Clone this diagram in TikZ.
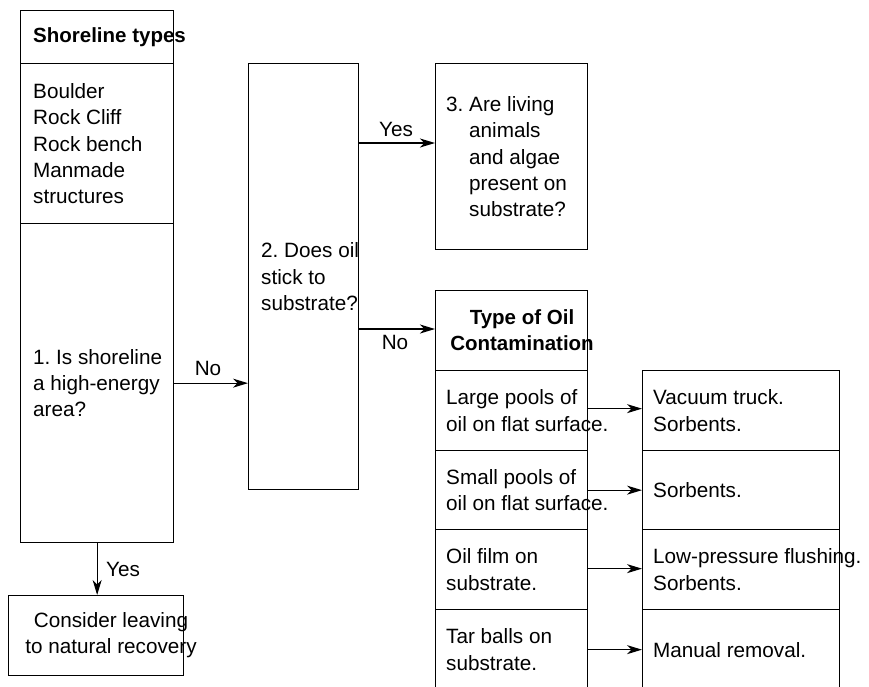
\documentclass[tikz,border=0pt]{standalone}
\usepackage{fontspec}
\setmainfont{Liberation Sans}
\frenchspacing
\usetikzlibrary{arrows.meta,calc}
\begin{document}
\begin{tikzpicture}[x=1pt,y=-1pt,
  box/.style={draw,line width=1.3pt,anchor=north west,inner sep=0pt,minimum width=#1},
  txt/.style={anchor=west,inner sep=0pt,align=left,font=\fontsize{20.7}{26.3}\selectfont},
  ctxt/.style={inner sep=0pt,align=center,font=\fontsize{20.7}{26.3}\selectfont},
  lab/.style={inner sep=0pt,font=\fontsize{20.7}{24}\selectfont},
  arr/.style={line width=1.2pt,-{Stealth[length=15pt,width=9pt,inset=4.5pt]}}]
\useasboundingbox (0,0) rectangle (869,686);
\clip (0,0) rectangle (869,686);
% left column
\node[box=153pt,minimum height=53pt] (sh) at (20,10) {};
\node[box=153pt,minimum height=160pt] (list) at (20,63) {};
\node[box=153pt,minimum height=319pt] (q1) at (20,223) {};
\node[txt,font=\bfseries\fontsize{20.5}{26.3}\selectfont] (tsh) at ([xshift=13pt]sh.west) {Shoreline types};
\node[txt] (tlist) at ([xshift=13pt]list.west) {Boulder\\Rock Cliff\\Rock bench\\Manmade\\structures};
\node[txt] (tq1) at ([xshift=13pt]q1.west) {1. Is shoreline\\a high-energy\\area?};
% consider
\node[box=175pt,minimum height=80pt] (cons) at (8,595) {};
\node[ctxt] (tcons) at (111,635) {Consider leaving\\to natural recovery};
% question 2
\node[box=110pt,minimum height=426pt] (q2) at (248,63) {};
\node[txt] (tq2) at ([xshift=13pt]q2.west) {2. Does oil\\stick to\\substrate?};
% question 3
\node[box=152pt,minimum height=186pt] (q3) at (435,63) {};
\node[txt] (tq3) at ([xshift=11pt]q3.west) {3. Are living\\\hspace*{23pt}animals\\\hspace*{23pt}and algae\\\hspace*{23pt}present on\\\hspace*{23pt}substrate?};
% type of oil
\node[box=152pt,minimum height=80pt] (toh) at (435,290) {};
\node[ctxt,font=\bfseries\fontsize{20.5}{26.3}\selectfont] (ttoh) at (522,330) {Type of Oil\\Contamination};
\node[box=152pt,minimum height=80pt] (r1) at (435,370) {};
\node[box=152pt,minimum height=79pt] (r2) at (435,450) {};
\node[box=152pt,minimum height=80pt] (r3) at (435,529) {};
\node[box=152pt,minimum height=80pt] (r4) at (435,609) {};
\node[txt] (tr1) at ([xshift=11pt]r1.west) {Large pools of\\oil on flat surface.};
\node[txt] (tr2) at ([xshift=11pt]r2.west) {Small pools of\\oil on flat surface.};
\node[txt] (tr3) at ([xshift=11pt]r3.west) {Oil film on\\substrate.};
\node[txt] (tr4) at ([xshift=11pt]r4.west) {Tar balls on\\substrate.};
% responses
\node[box=197pt,minimum height=80pt] (s1) at (642,370) {};
\node[box=197pt,minimum height=79pt] (s2) at (642,450) {};
\node[box=197pt,minimum height=80pt] (s3) at (642,529) {};
\node[box=197pt,minimum height=80pt] (s4) at (642,609) {};
\node[txt] (ts1) at ([xshift=11pt]s1.west) {Vacuum truck.\\Sorbents.};
\node[txt] (ts2) at ([xshift=11pt]s2.west) {Sorbents.};
\node[txt] (ts3) at ([xshift=11pt]s3.west) {Low-pressure flushing.\\Sorbents.};
\node[txt] (ts4) at ([xshift=11pt]s4.west) {Manual removal.};
% connectors
\draw[arr] (q1.east) -- (q1.east -| q2.west);
\node[lab] (lno1) at (208,368) {No};
\draw[arr] (q1.south) -- (q1.south |- cons.north);
\node[lab] (lyes1) at (123,569) {Yes};
\coordinate (c2y) at ([yshift=-80pt]q2.north east);
\coordinate (c2n) at ([yshift=-266pt]q2.north east);
\draw[arr] (c2y) -- (c2y -| q3.west);
\node[lab] (lyes2) at (396,129) {Yes};
\draw[arr] (c2n) -- (c2n -| toh.west);
\node[lab] (lno2) at (395,342) {No};
\draw[arr] ([yshift=2pt]r1.east) -- ([yshift=2pt]r1.east -| s1.west);
\draw[arr] (r2.east) -- (r2.east -| s2.west);
\draw[arr] ([yshift=1pt]r3.east) -- ([yshift=1pt]r3.east -| s3.west);
\draw[arr] (r4.east) -- (r4.east -| s4.west);
\end{tikzpicture}
\end{document}
